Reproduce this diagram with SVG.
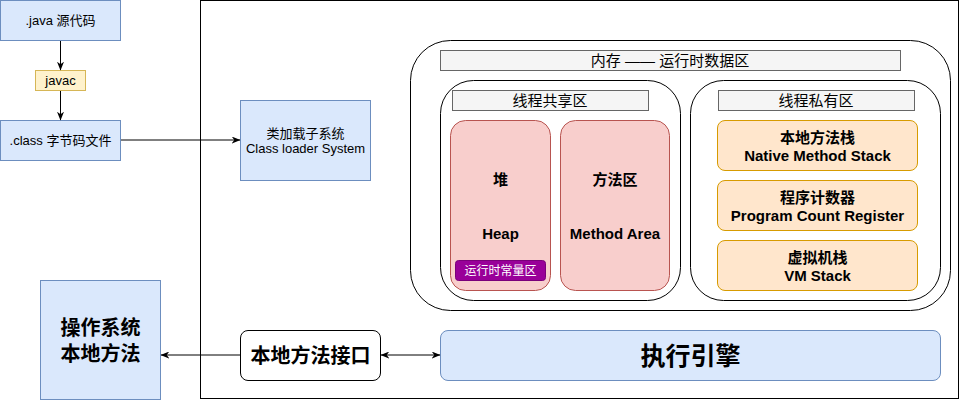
<svg xmlns="http://www.w3.org/2000/svg" width="961" height="401" viewBox="0 0 961 401">
<defs>
<marker id="arr" viewBox="0 0 10 8" refX="9.5" refY="4" markerWidth="9" markerHeight="7" markerUnits="userSpaceOnUse" orient="auto-start-reverse">
<path d="M0,0 L10,4 L0,8 L3,4 z" fill="#000"/>
</marker>
<style>
text{font-family:"Liberation Sans","Noto Sans CJK SC",sans-serif;text-anchor:middle;dominant-baseline:central;fill:#000}
.blue{fill:#dae8fc;stroke:#6c8ebf;stroke-width:1}
.yel{fill:#fff2cc;stroke:#d6b656;stroke-width:1}
.red{fill:#f8cecc;stroke:#b85450;stroke-width:1}
.org{fill:#ffe6cc;stroke:#d79b00;stroke-width:1}
.gray{fill:#f5f5f5;stroke:#666666;stroke-width:1}
.cont{fill:#fff;stroke:#000;stroke-width:1}
.s12{font-size:12px}
.s13{font-size:13px}
.s15{font-size:15px}
.b15{font-size:15px;font-weight:bold}
.b20{font-size:20px;font-weight:bold}
.b25{font-size:25px;font-weight:bold}
.conn{stroke:#000;stroke-width:1;fill:none}
</style>
</defs>
<rect width="961" height="401" fill="#fff"/>

<g id="jvm">
<rect x="200.5" y="0.5" width="758" height="398" fill="#fff" stroke="#000"/>
</g>

<g id="memory">
<rect class="cont" x="410.5" y="40.5" width="540" height="270" rx="40" ry="40"/>
<rect class="gray" x="440.5" y="50.5" width="460" height="20"/>
<text class="s15" x="670" y="60.5">内存 —— 运行时数据区</text>
</g>

<g id="shared">
<rect class="cont" x="440.5" y="80.5" width="240" height="220" rx="33" ry="33"/>
<rect class="gray" x="452.5" y="90.5" width="196" height="20"/>
<text class="s15" x="550" y="100.5">线程共享区</text>
</g>

<g id="private">
<rect class="cont" x="690.5" y="80.5" width="250" height="220" rx="33" ry="33"/>
<rect class="gray" x="718.5" y="90.5" width="196" height="20"/>
<text class="s15" x="816" y="100.5">线程私有区</text>
</g>

<g id="heap">
<rect class="red" x="450.5" y="120.5" width="100" height="170" rx="15" ry="15"/>
<text class="b15" x="500.5" y="179">堆</text>
<text class="b15" x="500.5" y="233">Heap</text>
</g>

<g id="constpool">
<rect x="455.5" y="260.5" width="90" height="20" rx="3" ry="3" fill="#990099" stroke="#7a007a"/>
<text class="s12" x="500.5" y="270.5" style="fill:#fff">运行时常量区</text>
</g>

<g id="methodarea">
<rect class="red" x="560.5" y="120.5" width="109" height="170" rx="15" ry="15"/>
<text class="b15" x="615" y="179">方法区</text>
<text class="b15" x="615" y="233">Method Area</text>
</g>

<g id="nativestack">
<rect class="org" x="717.5" y="120.5" width="200" height="50" rx="7.5" ry="7.5"/>
<text class="b15" x="817.5" y="137">本地方法栈</text>
<text class="b15" x="817.5" y="155">Native Method Stack</text>
</g>

<g id="pc">
<rect class="org" x="717.5" y="180.5" width="200" height="50" rx="7.5" ry="7.5"/>
<text class="b15" x="817.5" y="197">程序计数器</text>
<text class="b15" x="817.5" y="215">Program Count Register</text>
</g>

<g id="vmstack">
<rect class="org" x="717.5" y="240.5" width="200" height="50" rx="7.5" ry="7.5"/>
<text class="b15" x="817.5" y="257">虚拟机栈</text>
<text class="b15" x="817.5" y="275">VM Stack</text>
</g>

<g id="javasrc">
<rect class="blue" x="0.5" y="0.5" width="120" height="40"/>
<text class="s13" x="60.5" y="20.5">.java 源代码</text>
</g>

<g id="javac">
<rect class="yel" x="35.5" y="70.5" width="50" height="20"/>
<text class="s13" x="60.5" y="80.5">javac</text>
</g>

<g id="classfile">
<rect class="blue" x="0.5" y="120.5" width="120" height="40"/>
<text class="s13" x="60.5" y="140.5">.class 字节码文件</text>
</g>

<g id="classloader">
<rect class="blue" x="240.5" y="100.5" width="130" height="80"/>
<text class="s13" x="305.5" y="133">类加载子系统</text>
<text class="s13" x="305.5" y="148">Class loader System</text>
</g>

<g id="os">
<rect class="blue" x="40.5" y="280.5" width="120" height="119"/>
<text class="b20" x="100.5" y="328">操作系统</text>
<text class="b20" x="100.5" y="354">本地方法</text>
</g>

<g id="jni">
<rect x="240.5" y="330.5" width="140" height="50" rx="7.5" ry="7.5" fill="#fff" stroke="#000"/>
<text class="b20" x="310.5" y="355.5">本地方法接口</text>
</g>

<g id="engine">
<rect class="blue" x="440.5" y="330.5" width="500" height="50" rx="7.5" ry="7.5"/>
<text class="b25" x="690.5" y="355.5">执行引擎</text>
</g>

<g id="connectors">
<line class="conn" x1="60.5" y1="41" x2="60.5" y2="70" marker-end="url(#arr)"/>
<line class="conn" x1="60.5" y1="91" x2="60.5" y2="120" marker-end="url(#arr)"/>
<line class="conn" x1="121" y1="140" x2="240" y2="140" marker-end="url(#arr)"/>
<line class="conn" x1="240" y1="355" x2="161" y2="355" marker-end="url(#arr)"/>
<line class="conn" x1="381" y1="355" x2="440" y2="355" marker-start="url(#arr)" marker-end="url(#arr)"/>
</g>
</svg>
